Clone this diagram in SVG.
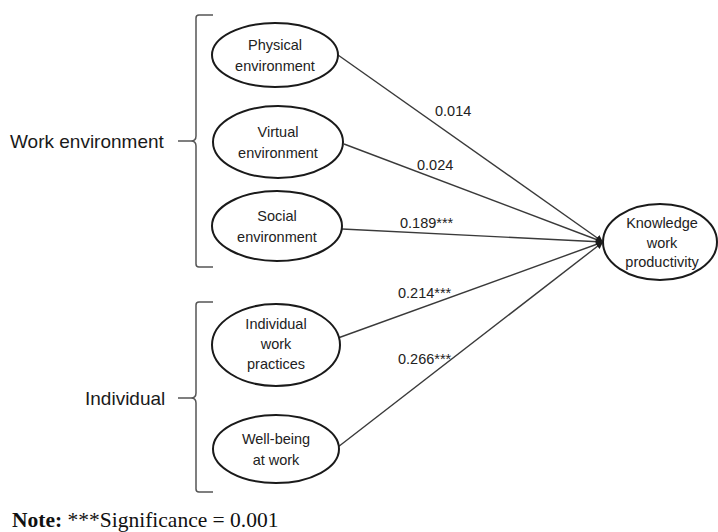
<svg xmlns="http://www.w3.org/2000/svg" width="718" height="532" viewBox="0 0 718 532">
<defs>
<style>
.node ellipse{fill:#fff;stroke:#1a1a1a;stroke-width:2}
.node text{font-family:"Liberation Sans",Arial,sans-serif;font-size:14.5px;fill:#222;text-anchor:middle}
.edge{stroke:#3a3a3a;stroke-width:1.4;fill:none;marker-end:url(#arr)}
.lbl{font-family:"Liberation Sans",Arial,sans-serif;font-size:14.5px;fill:#222}
.grp{font-family:"Liberation Sans",Arial,sans-serif;font-size:19px;fill:#1a1a1a}
.brace{fill:none;stroke:#555;stroke-width:1.5}
</style>
<marker id="arr" viewBox="0 0 10 10" refX="10" refY="5" markerWidth="7" markerHeight="7" markerUnits="userSpaceOnUse" orient="auto">
<path d="M0,0 L10,5 L0,10 z" fill="#1a1a1a"/>
</marker>
</defs>
<rect width="718" height="532" fill="#fff"/>

<g id="braces">
<path class="brace" d="M213,15 H199 Q196,15 196,18 V136 Q196,141 191,141 H178 M191,141 Q196,141 196,146 V264 Q196,267 199,267 H213"/>
<path class="brace" d="M213,302 H199 Q196,302 196,305 V393 Q196,398 191,398 H178 M191,398 Q196,398 196,403 V489 Q196,492 199,492 H213"/>
</g>
<g id="group-labels">
<text class="grp" x="10" y="148">Work environment</text>
<text class="grp" x="85" y="405">Individual</text>
</g>

<g id="connectors">
<line class="edge" x1="338" y1="55" x2="603" y2="242"/>
<line class="edge" x1="344" y1="144" x2="603" y2="242"/>
<line class="edge" x1="342" y1="229" x2="603" y2="242"/>
<line class="edge" x1="338" y1="338" x2="603" y2="242"/>
<line class="edge" x1="338" y1="447" x2="603" y2="242"/>
<text class="lbl" x="435" y="116">0.014</text>
<text class="lbl" x="417" y="170">0.024</text>
<text class="lbl" x="400" y="228">0.189***</text>
<text class="lbl" x="398" y="298">0.214***</text>
<text class="lbl" x="398" y="364">0.266***</text>
</g>

<g id="physical" class="node">
<ellipse cx="275" cy="55" rx="63" ry="32"/>
<text x="275" y="50">Physical</text>
<text x="275" y="71">environment</text>
</g>
<g id="virtual" class="node">
<ellipse cx="278" cy="142" rx="65" ry="36"/>
<text x="278" y="137">Virtual</text>
<text x="278" y="158">environment</text>
</g>
<g id="social" class="node">
<ellipse cx="277" cy="226" rx="65" ry="35"/>
<text x="277" y="221">Social</text>
<text x="277" y="242">environment</text>
</g>
<g id="individual-work" class="node">
<ellipse cx="276" cy="345" rx="64" ry="41"/>
<text x="276" y="329">Individual</text>
<text x="276" y="349">work</text>
<text x="276" y="369">practices</text>
</g>
<g id="wellbeing" class="node">
<ellipse cx="276" cy="449" rx="63" ry="34"/>
<text x="276" y="444">Well-being</text>
<text x="276" y="465">at work</text>
</g>
<g id="knowledge" class="node">
<ellipse cx="660" cy="242" rx="57" ry="38"/>
<text x="662" y="228">Knowledge</text>
<text x="662" y="248">work</text>
<text x="662" y="267">productivity</text>
</g>

<text x="12" y="527" font-family="'Liberation Serif','Times New Roman',serif" font-size="21.5px" fill="#111"><tspan font-weight="bold">Note:</tspan> ***Significance = 0.001</text>
</svg>
